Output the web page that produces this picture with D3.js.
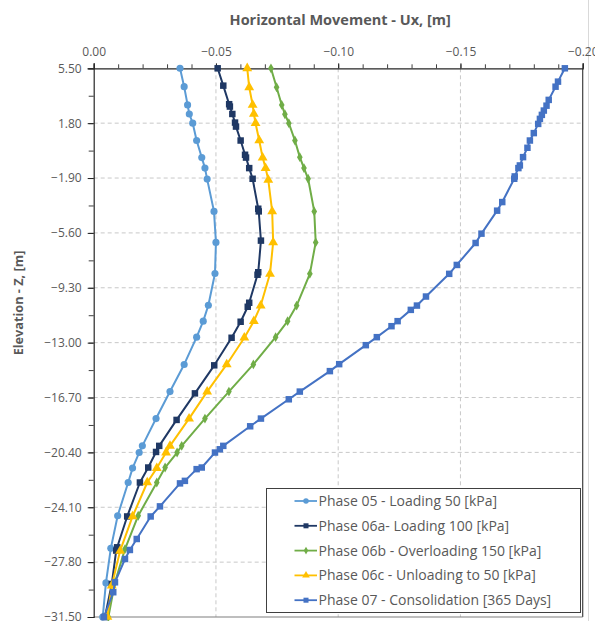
<!DOCTYPE html>
<html><head><meta charset="utf-8">
<script src="https://cdn.jsdelivr.net/npm/d3@7"></script>
<style>
html,body{margin:0;padding:0;background:#fff;}
svg{display:block;font-family:"Open Sans","Liberation Sans",sans-serif;}
</style></head>
<body><svg id="chart" width="595" height="621"></svg>
<script>
// ---- data ----
const xTicks = [0, -0.05, -0.10, -0.15, -0.20];
const yTicks = [5.5, 1.8, -1.9, -5.6, -9.3, -13.0, -16.7, -20.4, -24.1, -27.8, -31.5];
const seriesNames = [
  "Phase 05 - Loading 50 [kPa]",
  "Phase 06a- Loading 100 [kPa]",
  "Phase 06b - Overloading 150 [kPa]",
  "Phase 06c - Unloading to 50 [kPa]",
  "Phase 07 - Consolidation [365 Days]"
];
// [Ux, Z]
const phase05 = [[-0.0353,5.5],[-0.0370,4.26],[-0.0384,3.03],[-0.0391,2.42],[-0.0405,1.80],[-0.0421,0.63],[-0.0442,-0.52],[-0.0455,-1.23],[-0.0464,-1.97],[-0.0492,-4.15],[-0.0500,-6.24],[-0.0496,-8.34],[-0.0469,-10.48],[-0.0448,-11.55],[-0.0421,-12.63],[-0.0370,-14.47],[-0.0312,-16.30],[-0.0255,-18.12],[-0.0199,-19.96],[-0.0186,-20.41],[-0.0159,-21.46],[-0.0141,-22.43],[-0.0098,-24.67],[-0.0070,-26.87],[-0.0050,-29.20],[-0.0037,-31.5]];
const phase06a = [[-0.0507,5.5],[-0.0530,4.33],[-0.0554,3.08],[-0.0557,2.92],[-0.0567,2.42],[-0.0578,1.84],[-0.0582,1.57],[-0.0601,0.63],[-0.0619,-0.33],[-0.0623,-0.52],[-0.0636,-1.23],[-0.0650,-1.95],[-0.0673,-3.97],[-0.0675,-4.15],[-0.0684,-6.12],[-0.0673,-8.25],[-0.0670,-8.42],[-0.0636,-10.31],[-0.0630,-10.58],[-0.0601,-11.59],[-0.0564,-12.67],[-0.0493,-14.53],[-0.0414,-16.42],[-0.0339,-18.21],[-0.0268,-19.96],[-0.0255,-20.37],[-0.0223,-21.42],[-0.0189,-22.43],[-0.0137,-24.72],[-0.0096,-26.80],[-0.0092,-27.02],[-0.0074,-29.27],[-0.0046,-31.5]];
const phase06b = [[-0.0725,5.5],[-0.0748,4.22],[-0.0769,3.03],[-0.0782,2.40],[-0.0798,1.80],[-0.0823,0.63],[-0.0843,-0.49],[-0.0860,-1.23],[-0.0877,-1.95],[-0.0902,-4.15],[-0.0908,-6.24],[-0.0884,-8.36],[-0.0830,-10.50],[-0.0793,-11.55],[-0.0744,-12.63],[-0.0653,-14.47],[-0.0553,-16.30],[-0.0455,-18.12],[-0.0360,-19.96],[-0.0341,-20.41],[-0.0292,-21.42],[-0.0258,-22.43],[-0.0182,-24.67],[-0.0128,-26.92],[-0.0087,-29.16],[-0.0060,-31.5]];
const phase06c = [[-0.0628,5.5],[-0.0636,4.22],[-0.0650,3.03],[-0.0655,2.42],[-0.0662,1.80],[-0.0677,0.63],[-0.0691,-0.52],[-0.0703,-1.23],[-0.0714,-2.02],[-0.0730,-4.15],[-0.0734,-6.24],[-0.0721,-8.36],[-0.0683,-10.50],[-0.0655,-11.55],[-0.0616,-12.67],[-0.0544,-14.47],[-0.0464,-16.30],[-0.0390,-18.12],[-0.0312,-19.96],[-0.0296,-20.41],[-0.0258,-21.46],[-0.0219,-22.43],[-0.0159,-24.72],[-0.0108,-27.04],[-0.0074,-29.38],[-0.0056,-31.5]];
const phase07 = [[-0.1927,5.5],[-0.1899,4.60],[-0.1889,4.26],[-0.1861,3.37],[-0.1852,2.98],[-0.1841,2.65],[-0.1833,2.36],[-0.1825,2.09],[-0.1818,1.75],[-0.1800,1.13],[-0.1784,0.63],[-0.1774,0.14],[-0.1756,-0.49],[-0.1743,-1.05],[-0.1737,-1.23],[-0.1722,-1.79],[-0.1720,-1.95],[-0.1671,-3.52],[-0.1650,-4.10],[-0.1586,-5.65],[-0.1562,-6.28],[-0.1485,-7.76],[-0.1454,-8.36],[-0.1359,-9.89],[-0.1322,-10.50],[-0.1297,-10.79],[-0.1243,-11.55],[-0.1218,-11.89],[-0.1158,-12.63],[-0.1113,-13.17],[-0.1004,-14.45],[-0.0966,-14.92],[-0.0843,-16.30],[-0.0798,-16.82],[-0.0684,-18.12],[-0.0640,-18.64],[-0.0530,-19.96],[-0.0516,-20.19],[-0.0496,-20.41],[-0.0442,-21.42],[-0.0421,-21.53],[-0.0373,-22.32],[-0.0353,-22.49],[-0.0271,-24.04],[-0.0233,-24.72],[-0.0176,-26.24],[-0.0148,-26.98],[-0.0128,-27.59],[-0.0087,-29.16],[-0.0080,-29.83],[-0.0042,-31.5]];

const seriesData = [phase05, phase06a, phase06b, phase06c, phase07];
const colors = ["#5B9BD5", "#1F3864", "#70AD47", "#FFC000", "#4472C4"];
const symbols = [d3.symbolCircle, d3.symbolSquare, d3.symbolDiamond, d3.symbolTriangle, d3.symbolSquare];
const symSizes = [40, 42, 28, 42, 42];

// ---- layout ----
const svg = d3.select("#chart");
const L = 93.7, R = 582.7, T = 68.3, B = 617;
const x = d3.scaleLinear().domain([0, -0.2]).range([L, R]);
const y = d3.scaleLinear().domain([5.5, -31.5]).range([T, B]);
const textCol = "#595959";

// outer chart frame (right edge)
svg.append("line").attr("x1", 588.5).attr("x2", 588.5).attr("y1", 0).attr("y2", 621)
  .attr("stroke", "#D9D9D9").attr("stroke-width", 1);

// gridlines
const grid = svg.append("g");
grid.selectAll(".hg").data(yTicks.slice(1, -1)).join("line")
  .attr("x1", L).attr("x2", R).attr("y1", d => y(d)).attr("y2", d => y(d))
  .attr("stroke", "#C8C8C8").attr("stroke-dasharray", "4,3").attr("stroke-width", 1);
grid.selectAll(".vg").data(xTicks.slice(1, -1)).join("line")
  .attr("y1", T).attr("y2", B).attr("x1", d => x(d)).attr("x2", d => x(d))
  .attr("stroke", "#C8C8C8").attr("stroke-dasharray", "4,3").attr("stroke-width", 1);

// plot border right/bottom
svg.append("line").attr("x1", R).attr("x2", R).attr("y1", T).attr("y2", B).attr("stroke", "#404040").attr("stroke-width", 1.2);
svg.append("line").attr("x1", L).attr("x2", R).attr("y1", B).attr("y2", B).attr("stroke", "#7F7F7F").attr("stroke-width", 1.2);

// axes
const xMinor = d3.range(0, 21).map(i => -i * 0.01);
svg.append("g").attr("transform", `translate(0,${T})`)
  .call(d3.axisTop(x).tickValues(xMinor).tickSize(4).tickFormat(""))
  .call(g => g.select(".domain").remove())
  .call(g => g.selectAll("line").attr("stroke", "#404040"));
const gx = svg.append("g").attr("transform", `translate(0,${T})`)
  .call(d3.axisTop(x).tickValues(xTicks).tickSize(5).tickPadding(7).tickFormat(d3.format(".2f")));
gx.select(".domain").attr("stroke", "#262626").attr("stroke-width", 1.2);
gx.selectAll("line").attr("stroke", "#262626");
gx.selectAll("text").attr("fill", textCol).style("font-size", "12px").style("font-family", "'Open Sans', sans-serif");

const yMinor = d3.range(0, 21).map(i => 5.5 - i * 1.85);
svg.append("g").attr("transform", `translate(${L},0)`)
  .call(d3.axisLeft(y).tickValues(yMinor).tickSize(5).tickFormat(""))
  .call(g => g.select(".domain").remove())
  .call(g => g.selectAll("line").attr("stroke", "#404040"));
const gy = svg.append("g").attr("transform", `translate(${L},0)`)
  .call(d3.axisLeft(y).tickValues(yTicks).tickSize(6).tickPadding(6).tickFormat(d3.format(".2f")));
gy.select(".domain").attr("stroke", "#262626").attr("stroke-width", 1.2);
gy.selectAll("line").attr("stroke", "#262626");
gy.selectAll("text").attr("fill", textCol).style("font-size", "12px").style("font-family", "'Open Sans', sans-serif");

// titles
svg.append("text").attr("x", (L + R) / 2 + 2).attr("y", 25).attr("text-anchor", "middle")
  .attr("fill", textCol).style("font-size", "14.5px").style("font-weight", "bold")
  .text("Horizontal Movement - Ux, [m]");
svg.append("text").attr("transform", `translate(23,303) rotate(-90)`).attr("text-anchor", "middle")
  .attr("fill", textCol).style("font-size", "12.7px").style("font-weight", "bold")
  .text("Elevation - Z, [m]");

// series
const line = d3.line().x(d => x(d[0])).y(d => y(d[1]));
const plot = svg.append("g");
seriesData.forEach((data, i) => {
  plot.append("path").datum(data).attr("d", line).attr("fill", "none")
    .attr("stroke", colors[i]).attr("stroke-width", 2).attr("stroke-linejoin", "round");
  plot.selectAll(null).data(data).join("path")
    .attr("transform", d => `translate(${x(d[0])},${y(d[1])})`)
    .attr("d", d3.symbol().type(symbols[i]).size(symSizes[i]))
    .attr("fill", colors[i]);
});

// legend
const lg = svg.append("g");
const lx = 266.5, ly = 488.5, lw = 314, lh = 124;
lg.append("rect").attr("x", lx).attr("y", ly).attr("width", lw).attr("height", lh)
  .attr("fill", "#fff").attr("stroke", "#404040").attr("stroke-width", 1);
seriesNames.forEach((name, i) => {
  const yy = 501 + i * 24.8;
  lg.append("line").attr("x1", 294.5).attr("x2", 317).attr("y1", yy).attr("y2", yy)
    .attr("stroke", colors[i]).attr("stroke-width", 1.8);
  lg.append("path").attr("transform", `translate(306,${yy})`)
    .attr("d", d3.symbol().type(symbols[i]).size(symSizes[i] * 0.6)).attr("fill", colors[i]);
  lg.append("text").attr("x", 318.5).attr("y", yy).attr("dy", "0.35em")
    .attr("fill", textCol).style("font-size", "14px").text(name);
});
</script></body></html>
